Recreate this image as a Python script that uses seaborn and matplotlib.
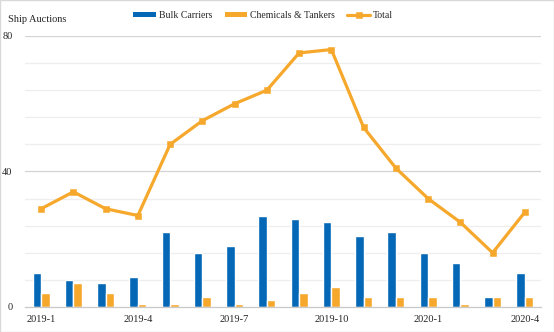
import matplotlib
matplotlib.use("Agg")
import matplotlib.pyplot as plt
import seaborn as sns
import pandas as pd
from matplotlib.lines import Line2D
from matplotlib.patches import Patch, Rectangle

months = ["2019-1", "2019-2", "2019-3", "2019-4", "2019-5", "2019-6", "2019-7", "2019-8",
          "2019-9", "2019-10", "2019-11", "2019-12", "2020-1", "2020-2", "2020-3", "2020-4"]
bulk = [10, 8, 7, 9, 22, 16, 18, 27, 26, 25, 21, 22, 16, 13, 3, 10]
chem = [4, 7, 4, 1, 1, 3, 1, 2, 4, 6, 3, 3, 3, 1, 3, 3]
total = [29, 34, 29, 27, 48, 55, 60, 64, 75, 76, 53, 41, 32, 25, 16, 28]
series_names = ["Bulk Carriers", "Chemicals & Tankers", "Total"]
shown_ticks = ["2019-1", "2019-4", "2019-7", "2019-10", "2020-1", "2020-4"]

blue = "#0568b6"
orange = "#f6a82c"

sns.set_style("white")
plt.rcParams['font.family'] = ['Liberation Serif', 'DejaVu Serif']

df = pd.DataFrame({
    "month": months * 2,
    "value": bulk + chem,
    "series": [series_names[0]] * len(months) + [series_names[1]] * len(months),
})

fig = plt.figure(figsize=(5.54, 3.32), dpi=100)
ax = fig.add_axes([25 / 554, 1 - 307 / 332, (541 - 25) / 554, (307 - 36) / 332])

for v in [8, 16, 24, 32, 48, 56, 64, 72]:
    ax.axhline(v, color="#eeeeee", lw=0.9, zorder=0)
for v in [40, 80]:
    ax.axhline(v, color="#d4d4d4", lw=0.9, zorder=0)

sns.barplot(data=df, x="month", y="value", hue="series", order=months,
            hue_order=series_names[:2], palette=[blue, orange], width=0.52,
            gap=0, dodge=True, saturation=1, legend=False, ax=ax, zorder=2)
sns.pointplot(x=months, y=total, order=months, color=orange, markers="s",
              linestyles="-", ax=ax, zorder=3, markersize=4.2, markeredgewidth=0.4,
              linewidth=2.3)

ax.set_xlim(-0.5, 15.5)
ax.set_ylim(0, 80)
ax.set_yticks([0, 40, 80])
ax.set_yticklabels(["0", "40", "80"])
ax.set_xticks([months.index(m) for m in shown_ticks])
ax.set_xticklabels(shown_ticks)
ax.set_xticks([2.5, 5.5, 8.5, 11.5, 14.5], minor=True)
ax.tick_params(axis="x", which="major", length=0, pad=6, labelsize=7.5)
ax.tick_params(axis="x", which="minor", length=3, color="#c8c8c8", width=0.8)
ax.tick_params(axis="y", length=0, pad=9, labelsize=7.5)
ax.set_xlabel("")
ax.set_ylabel("")
for s in ["top", "right", "left"]:
    ax.spines[s].set_visible(False)
ax.spines["bottom"].set_color("#c8c8c8")
ax.spines["bottom"].set_linewidth(0.9)
ax.spines["bottom"].set_zorder(4)

fig.text(8 / 554, 1 - 20 / 332, "Ship Auctions", fontsize=7.5, va="center", ha="left")

handles = [
    Patch(facecolor=blue, edgecolor="none"),
    Patch(facecolor=orange, edgecolor="none"),
    Line2D([0], [0], color=orange, lw=2.3, marker="s", markersize=4.2, markeredgewidth=0.4),
]
leg = fig.legend(handles, series_names, loc="center", bbox_to_anchor=(263 / 554, 1 - 15.5 / 332),
                 ncol=3, frameon=False, fontsize=7, handlelength=2.3, handleheight=0.55,
                 handletextpad=0.3, columnspacing=1.3)

fig.patches.append(Rectangle((0, 0), 1, 1, transform=fig.transFigure, fill=False,
                             edgecolor="#d9d9d9", lw=1))

fig.savefig("out.png", dpi=100)
